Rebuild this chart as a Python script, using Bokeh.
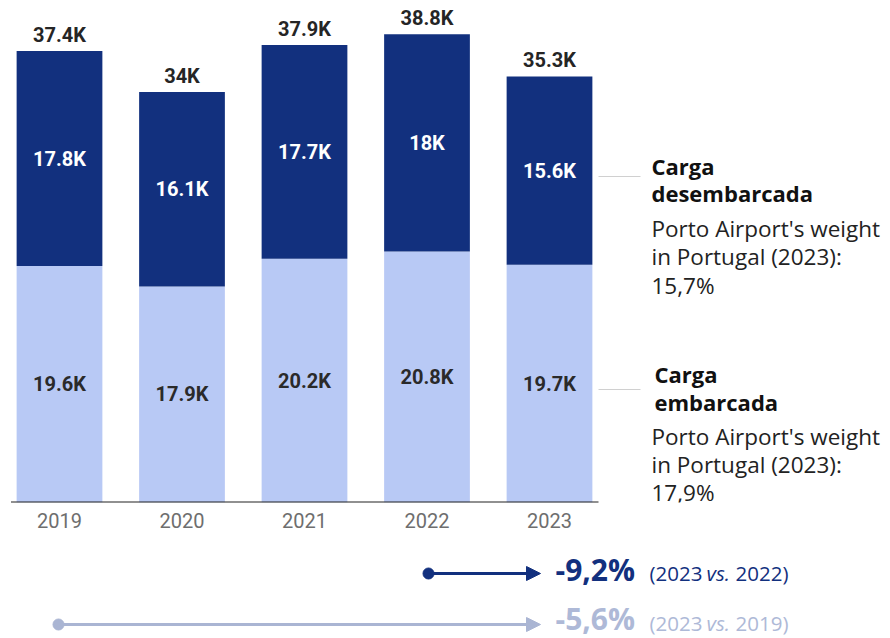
from bokeh.plotting import figure
from bokeh.layouts import column
from bokeh.models import Range1d, FixedTicker, Arrow, NormalHead, ColumnDataSource
from bokeh.core.properties import value
from bokeh.embed import file_html
from bokeh.resources import INLINE

# ---- data ----
years = ["2019", "2020", "2021", "2022", "2023"]
embarcada = [19.6, 17.9, 20.2, 20.8, 19.7]        # Carga embarcada (bottom, light)
desembarcada = [17.8, 16.1, 17.7, 18.0, 15.6]     # Carga desembarcada (top, dark)
totals = [37.4, 34.0, 37.9, 38.8, 35.3]
weight_desemb = "15,7%"
weight_emb = "17,9%"
change_2022 = "-9,2%"
change_2019 = "-5,6%"

DARK = "#12307e"
LIGHT = "#b8c9f5"
ARROW_LIGHT = "#aab5d3"
TEXT_LIGHT = "#aeb9d7"

W, H = 890, 638
TOP_H = 548

def fmt(v):
    return f"{v:g}K"

xs = list(range(len(years)))
mid_emb = [e / 2 for e in embarcada]
mid_des = [e + d / 2 for e, d in zip(embarcada, desembarcada)]

src = ColumnDataSource(dict(
    x=xs, emb=embarcada, top=[e + d for e, d in zip(embarcada, desembarcada)],
    tot=totals, mid_emb=mid_emb, mid_des=mid_des,
    lab_emb=[fmt(v) for v in embarcada], lab_des=[fmt(v) for v in desembarcada],
    lab_tot=[fmt(v) for v in totals],
))

# pixel helpers for annotation placement (top figure)
def px2x(px):
    return (px - 59) / 122.5

def py2y(py):
    return (502 - py) / 12.07

p = figure(width=W, height=TOP_H, output_backend="svg", toolbar_location=None,
           x_range=Range1d(px2x(0), px2x(W)), y_range=Range1d(0, py2y(0)),
           min_border_left=0, min_border_right=0, min_border_top=0, min_border_bottom=46)
p.outline_line_color = None
p.xgrid.grid_line_color = None
p.ygrid.grid_line_color = None
p.yaxis.visible = False
p.background_fill_color = "white"
p.border_fill_color = "white"

p.vbar(x="x", width=0.70, bottom=0, top="emb", source=src, fill_color=LIGHT, line_color=None)
p.vbar(x="x", width=0.70, bottom="emb", top="top", source=src, fill_color=DARK, line_color=None)

p.text(x="x", y="mid_emb", text="lab_emb", source=src, text_align="center", text_baseline="middle",
       text_font=value("Roboto"), text_font_style="bold", text_font_size="20px", text_color="#2a2a2a")
p.text(x="x", y="mid_des", text="lab_des", source=src, text_align="center", text_baseline="middle",
       text_font=value("Roboto"), text_font_style="bold", text_font_size="20px", text_color="white")
p.text(x="x", y="tot", text="lab_tot", source=src, text_align="center", text_baseline="middle",
       y_offset=-16, text_font=value("Roboto"), text_font_style="bold", text_font_size="20px",
       text_color="#252525")

# baseline
p.segment(x0=[px2x(10.5)], y0=[0], x1=[px2x(598)], y1=[0], line_color="#222222", line_width=2)

ax = p.xaxis[0]
ax.ticker = FixedTicker(ticks=xs)
ax.major_label_overrides = {i: y for i, y in zip(xs, years)}
ax.axis_line_color = None
ax.major_tick_line_color = None
ax.minor_tick_line_color = None
ax.major_tick_out = 0
ax.major_label_standoff = 10
ax.major_label_text_font = "Roboto"
ax.major_label_text_font_size = "20px"
ax.major_label_text_color = "#6e6e6e"

# right annotations
p.segment(x0=[px2x(598), px2x(598)], y0=[py2y(176), py2y(389)],
          x1=[px2x(640), px2x(640)], y1=[py2y(176), py2y(389)], line_color="#d0d0d0", line_width=1)

bold_lines = [("Carga", 651, 165), ("desembarcada", 651, 192), ("Carga", 654, 373), ("embarcada", 654, 401)]
reg_lines = [("Porto Airport's weight", 651, 228), ("in Portugal (2023):", 651, 256), (weight_desemb, 651, 285),
             ("Porto Airport's weight", 651, 436), ("in Portugal (2023):", 651, 464), (weight_emb, 651, 492)]
p.text(x=[px2x(a[1]) for a in bold_lines], y=[py2y(a[2]) for a in bold_lines], text=[a[0] for a in bold_lines],
       text_align="left", text_baseline="middle", text_font=value("Open Sans"), text_font_style="bold",
       text_font_size="22px", text_color="#111111")
p.text(x=[px2x(a[1]) for a in reg_lines], y=[py2y(a[2]) for a in reg_lines], text=[a[0] for a in reg_lines],
       text_align="left", text_baseline="middle", text_font=value("Open Sans"),
       text_font_size="22.5px", text_color="#222222")

# ---- bottom comparison strip (coordinates = page pixels) ----
q = figure(width=W, height=H - TOP_H, output_backend="svg", toolbar_location=None,
           x_range=Range1d(0, W), y_range=Range1d(H, TOP_H),
           min_border_left=0, min_border_right=0, min_border_top=0, min_border_bottom=0)
q.outline_line_color = None
q.xgrid.grid_line_color = None
q.ygrid.grid_line_color = None
q.xaxis.visible = False
q.yaxis.visible = False

for (x0, yy, ybig, ysmall, col, tcol, val, ref) in [
        (428, 573, 569, 572, DARK, DARK, change_2022, "2022)"),
        (58, 624, 618, 622, ARROW_LIGHT, TEXT_LIGHT, change_2019, "2019)")]:
    q.add_layout(Arrow(end=NormalHead(size=14, fill_color=col, line_color=col),
                       x_start=x0, y_start=yy, x_end=540, y_end=yy, line_color=col, line_width=3))
    q.scatter(x=[x0], y=[yy], size=11, marker="circle", fill_color=col, line_color=col)
    q.text(x=[555], y=[ybig], text=[val], text_align="left", text_baseline="middle",
           text_font=value("Open Sans"), text_font_style="bold", text_font_size="30px", text_color=tcol)
    q.text(x=[649, 735], y=[ysmall, ysmall], text=["(2023", ref], text_align="left", text_baseline="middle",
           text_font=value("Open Sans"), text_font_size="20.5px", text_color=tcol)
    q.text(x=[706], y=[ysmall], text=["vs."], text_align="left", text_baseline="middle",
           text_font=value("Open Sans"), text_font_style="italic", text_font_size="20.5px", text_color=tcol)

layout = column(p, q, spacing=0)
open("out.html", "w").write(file_html(layout, INLINE))
